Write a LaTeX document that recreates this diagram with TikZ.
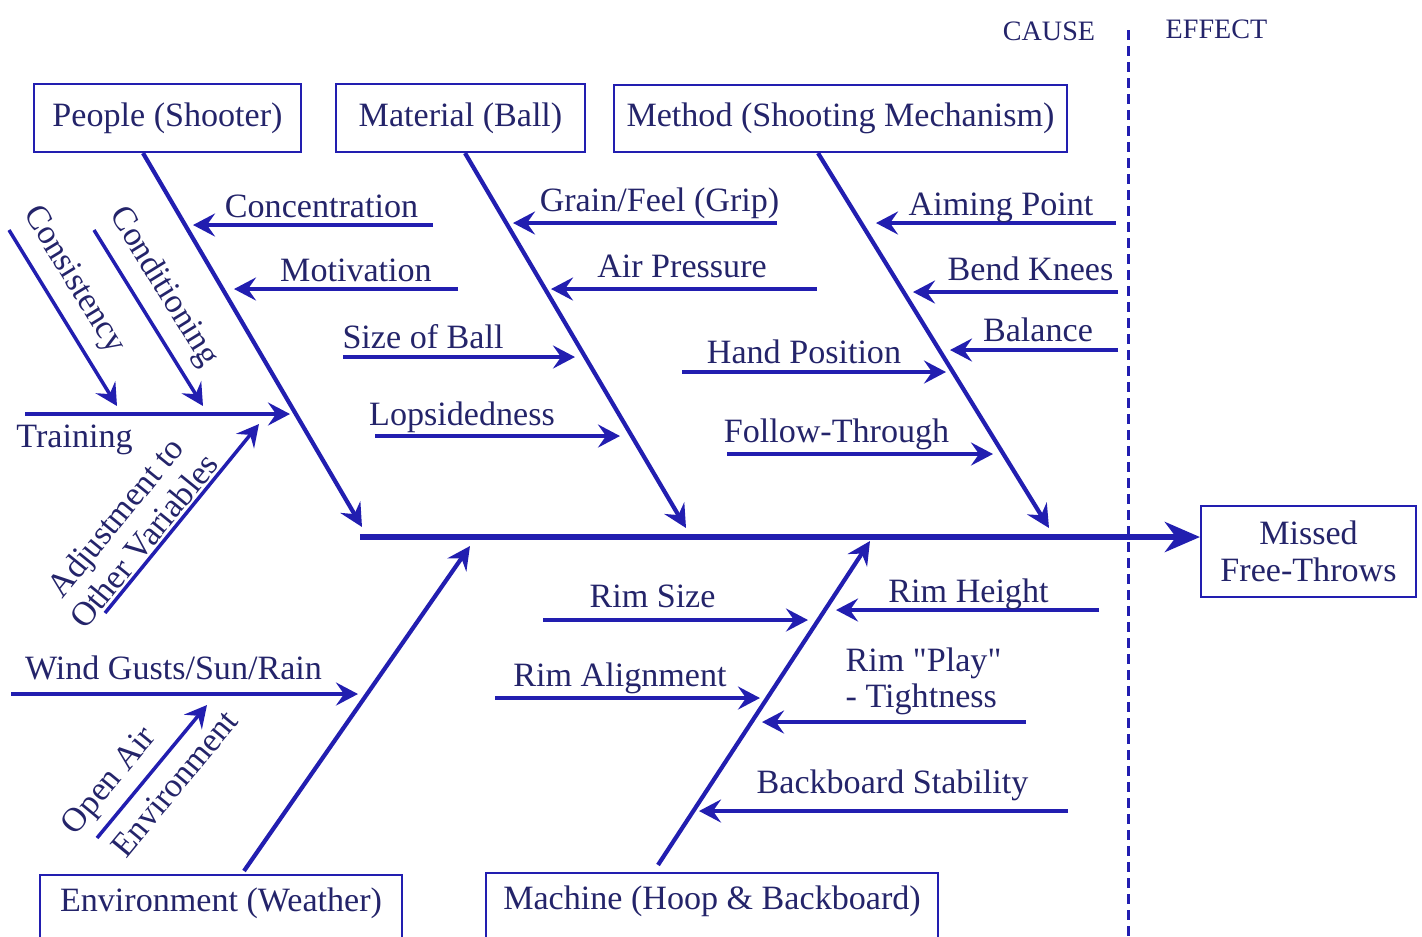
\documentclass[tikz,border=0pt]{standalone}
\usepackage{fontspec}
\setmainfont{Liberation Serif}[Ligatures=TeXOff]
\usepackage{tikz}
\usetikzlibrary{arrows.meta,positioning,calc}
\definecolor{fishline}{RGB}{34,30,176}
\definecolor{fishtext}{RGB}{36,36,106}

\begin{document}
\begin{tikzpicture}[x=0.1mm,y=-0.1mm,font=\fontsize{9.7}{10.6}\selectfont,text=fishtext,
                    catbox/.style={draw=fishline,line width=0.6pt,minimum height=6.8mm,inner sep=0pt},
                    rib/.style={draw=fishline,line width=1.2pt,-{Stealth[length=2.3mm,width=2.3mm,inset=0.8mm]}},
                    sub/.style={draw=fishline,line width=1pt,-{Stealth[length=2.2mm,width=2.3mm,inset=0.8mm]}},
                    lbl/.style={anchor=base,inner sep=0pt},
                    side/.style={font=\fontsize{8}{9}\selectfont,anchor=base,inner sep=0pt}]
    \useasboundingbox (0,0) rectangle (1422,936);

    \node[catbox,minimum width=26.7mm] (people) at (167.5,118) {People (Shooter)};
    \node[catbox,minimum width=24.9mm] (material) at (460.5,118) {Material (Ball)};
    \node[catbox,minimum width=45.3mm,minimum height=6.7mm] (method) at (840.5,118.5) {Method (Shooting Mechanism)};
    \node[catbox,minimum width=36.2mm,minimum height=6.6mm,text depth=1.7mm] (environ) at (221,908) {Environment (Weather)};
    \node[catbox,minimum width=45.2mm,minimum height=6.6mm,text depth=1.7mm] (machine) at (712,906) {Machine (Hoop \& Backboard)};
    \node[catbox,minimum width=21.5mm,minimum height=9.1mm,align=center] (effect) at (1308.5,551.5) {Missed\\Free-Throws};

    \node[side] (cause) at (1049,40) {CAUSE};
    \node[side] (effectlbl) at (1216.5,38) {EFFECT};
    \coordinate (div-a) at (1128,30); \coordinate (div-b) at (1128,936);
    \draw[draw=fishline,line width=0.85pt,dash pattern=on 1mm off 0.6mm] (div-a) -- (div-b);

    \coordinate (spine) at (360,537);
    \draw[draw=fishline,line width=1.7pt,-{Stealth[length=3.5mm,width=3mm,inset=1.1mm]}] (spine) -- (spine -| effect.west);

    \coordinate (people-b) at (362,527);
    \coordinate (material-b) at (686,528);
    \coordinate (method-b) at (1049,528);
    \coordinate (environ-b) at (470,546);
    \coordinate (machine-b) at (870,541);
    \draw[rib] ([xshift=-2.45mm]people.south) -- (people-b);
    \draw[rib] ([xshift=0.45mm]material.south) -- (material-b);
    \draw[rib] ([xshift=-2.25mm]method.south) -- (method-b);
    \draw[rib] ([xshift=2.3mm,yshift=0.3mm]environ.north) -- (environ-b);
    \draw[rib] ([xshift=-5.4mm,yshift=0.7mm]machine.north) -- (machine-b);

    \coordinate (conc-a) at (433,225); \coordinate (conc-b) at (193,225);
    \draw[sub] (conc-a) -- (conc-b);
    \node[lbl] (conc) at (321.5,217) {Concentration};
    \coordinate (motiv-a) at (458,289); \coordinate (motiv-b) at (234,289);
    \draw[sub] (motiv-a) -- (motiv-b);
    \node[lbl] (motiv) at (356,281) {Motivation};
    \coordinate (train-a) at (25,414); \coordinate (train-b) at (290,414);
    \draw[sub] (train-a) -- (train-b);
    \node[lbl] (train) at (74.5,447) {Training};
    \coordinate (consis-a) at (9,230); \coordinate (consis-b) at (117,406);
    \draw[sub] (consis-a) -- node[sloped,above,pos=0.37] (consis) {Consistency} (consis-b);
    \coordinate (condit-a) at (94,230); \coordinate (condit-b) at (203,406);
    \draw[sub] (condit-a) -- node[sloped,above,pos=0.41] (condit) {Conditioning} (condit-b);
    \coordinate (adjust-a) at (105,613); \coordinate (adjust-b) at (259,424);
    \draw[sub] (adjust-a) -- node[sloped,above,pos=0.33,align=center,inner sep=0.5pt] (adjust) {Adjustment to\\Other Variables} (adjust-b);

    \coordinate (size-a) at (343,357); \coordinate (size-b) at (575,357);
    \draw[sub] (size-a) -- (size-b);
    \node[lbl] (size) at (423,348) {Size of Ball};
    \coordinate (lops-a) at (375,436); \coordinate (lops-b) at (620,436);
    \draw[sub] (lops-a) -- (lops-b);
    \node[lbl] (lops) at (462,425) {Lopsidedness};
    \coordinate (grain-a) at (777,223); \coordinate (grain-b) at (513,223);
    \draw[sub] (grain-a) -- (grain-b);
    \node[lbl] (grain) at (659.5,211) {Grain/Feel (Grip)};
    \coordinate (air-a) at (817,289); \coordinate (air-b) at (551,289);
    \draw[sub] (air-a) -- (air-b);
    \node[lbl] (air) at (682,277) {Air Pressure};

    \coordinate (aim-a) at (1116,223); \coordinate (aim-b) at (876,223);
    \draw[sub] (aim-a) -- (aim-b);
    \node[lbl] (aim) at (1001,215) {Aiming Point};
    \coordinate (bend-a) at (1118,292); \coordinate (bend-b) at (913,292);
    \draw[sub] (bend-a) -- (bend-b);
    \node[lbl] (bend) at (1030.5,280) {Bend Knees};
    \coordinate (bal-a) at (1118,350); \coordinate (bal-b) at (950,350);
    \draw[sub] (bal-a) -- (bal-b);
    \node[lbl] (bal) at (1038,341) {Balance};
    \coordinate (hand-a) at (682,372); \coordinate (hand-b) at (946,372);
    \draw[sub] (hand-a) -- (hand-b);
    \node[lbl] (hand) at (804,363) {Hand Position};
    \coordinate (follow-a) at (727,454); \coordinate (follow-b) at (993,454);
    \draw[sub] (follow-a) -- (follow-b);
    \node[lbl] (follow) at (836.5,442) {Follow-Through};

    \coordinate (wind-a) at (11,694); \coordinate (wind-b) at (358,694);
    \draw[sub] (wind-a) -- (wind-b);
    \node[lbl] (wind) at (173.5,679) {Wind Gusts/Sun/Rain};
    \coordinate (open-a) at (97,838); \coordinate (open-b) at (207,705);
    \draw[sub] (open-a) -- node[sloped,above,pos=0.3,inner sep=2.5pt] (open) {Open Air}
                           node[sloped,below,pos=0.53] (openenv) {Environment} (open-b);

    \coordinate (rsize-a) at (543,620); \coordinate (rsize-b) at (808,620);
    \draw[sub] (rsize-a) -- (rsize-b);
    \node[lbl] (rsize) at (652.5,607) {Rim Size};
    \coordinate (rheight-a) at (1099,610); \coordinate (rheight-b) at (836,610);
    \draw[sub] (rheight-a) -- (rheight-b);
    \node[lbl] (rheight) at (968.5,602) {Rim Height};
    \coordinate (ralign-a) at (495,698); \coordinate (ralign-b) at (760,698);
    \draw[sub] (ralign-a) -- (ralign-b);
    \node[lbl] (ralign) at (620,686) {Rim Alignment};
    \coordinate (rplay-a) at (1026,722); \coordinate (rplay-b) at (762,722);
    \draw[sub] (rplay-a) -- (rplay-b);
    \node[lbl,anchor=base west] (rplay) at (845,671) {Rim "Play"};
    \node[lbl,anchor=base west] (rtight) at (845,707) {- Tightness};
    \coordinate (back-a) at (1068,811); \coordinate (back-b) at (699,811);
    \draw[sub] (back-a) -- (back-b);
    \node[lbl] (back) at (892.5,793) {Backboard Stability};
\end{tikzpicture}
\end{document}
